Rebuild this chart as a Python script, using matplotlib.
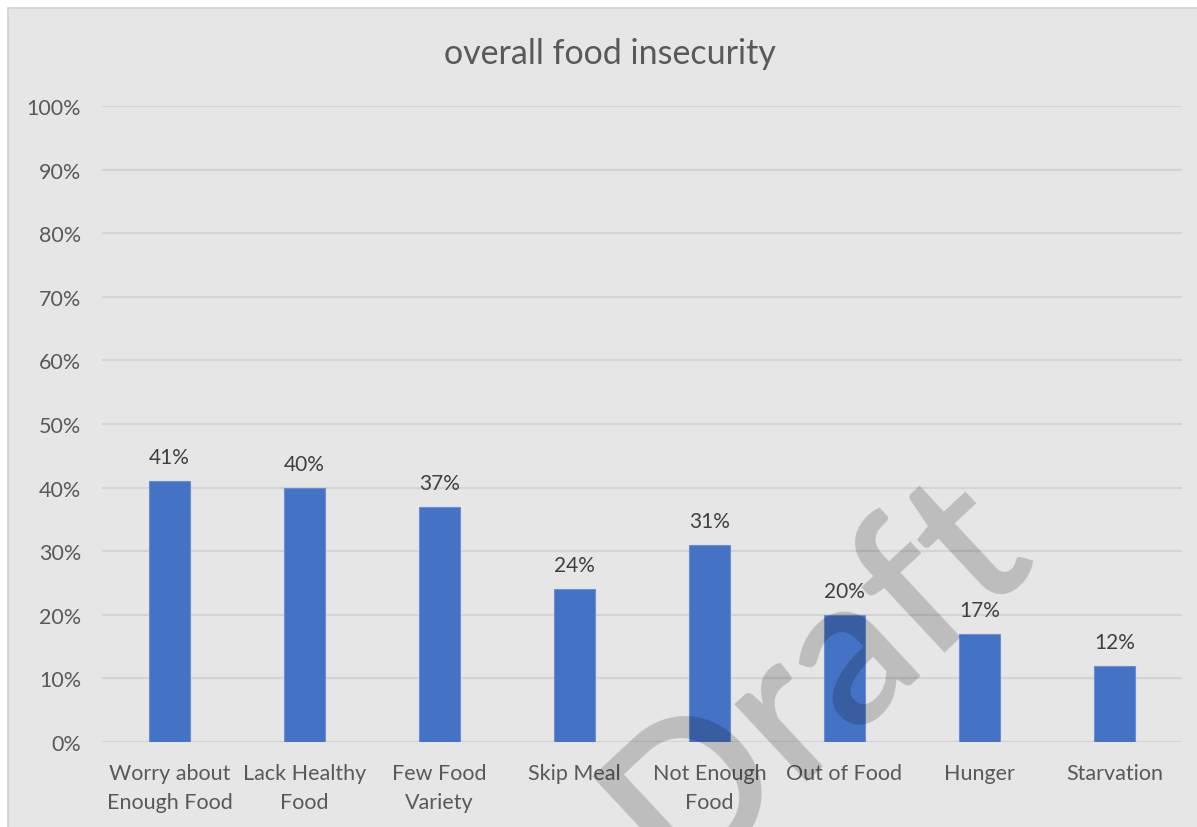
import numpy as np
import matplotlib.pyplot as plt
from matplotlib.patches import Rectangle
from matplotlib.ticker import PercentFormatter

# Survey results: share of respondents reporting each experience
categories = ["Worry about\nEnough Food", "Lack Healthy\nFood", "Few Food\nVariety", "Skip Meal",
              "Not Enough\nFood", "Out of Food", "Hunger", "Starvation"]
shares = [0.41, 0.40, 0.37, 0.24, 0.31, 0.20, 0.17, 0.12]
y_ticks = [0.0, 0.1, 0.2, 0.3, 0.4, 0.5, 0.6, 0.7, 0.8, 0.9, 1.0]

BG = "#e6e6e6"
BAR = "#4472C4"
TXT = "#595959"

plt.rcParams["font.family"] = ["Lato", "DejaVu Sans"]

fig = plt.figure(figsize=(11.97, 8.28), dpi=100)
fig.patch.set_facecolor("white")

# chart area panel with thin border on the left/top
W, H = 1197, 828
fig.patches.append(Rectangle((8 / W, -0.01), 1.01 - 8 / W, 1.01 - 9 / H, transform=fig.transFigure,
                             facecolor=BG, edgecolor="#d0d0d0", linewidth=1.2, zorder=-10))

ax = fig.add_axes([102 / W, 1 - 743 / H, 1080 / W, 636 / H])
ax.set_facecolor("none")

x = np.arange(len(categories))
bars = ax.bar(x, shares, width=0.31, color=BAR, edgecolor="#6a8fd4", linewidth=0.8, zorder=3)

for b, v in zip(bars, shares):
    ax.annotate(f"{v:.0%}", (b.get_x() + b.get_width() / 2, v), xytext=(0, 10),
                textcoords="offset points", ha="center", va="bottom",
                fontsize=15, color="#404040")

ax.set_xlim(-0.5, len(categories) - 0.5)
ax.set_ylim(0, 1.0)
ax.set_yticks(y_ticks)
ax.yaxis.set_major_formatter(PercentFormatter(1.0, decimals=0))
ax.set_xticks(x)
ax.set_xticklabels(categories, linespacing=1.55)
ax.tick_params(axis="both", length=0, labelsize=15.5, labelcolor=TXT)
ax.tick_params(axis="y", pad=15)
ax.tick_params(axis="x", pad=15)

ax.grid(axis="y", color="#d4d4d4", linewidth=1.6, zorder=0)
for s in ax.spines.values():
    s.set_visible(False)

fig.text(610 / W, 1 - 54 / H, "overall food insecurity", ha="center", va="center",
         fontsize=24.5, color=TXT)

# watermark
fig.text(815 / W, 1 - 676 / H, "Draft", ha="center", va="center", rotation=43,
         rotation_mode="anchor", fontsize=150, fontweight="semibold",
         color="black", alpha=0.18, zorder=10)

fig.savefig("out.png", dpi=100)
